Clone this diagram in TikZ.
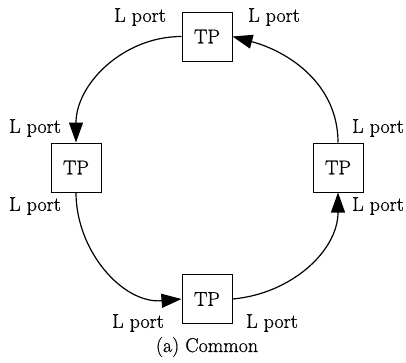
\documentclass[tikz,border=0pt]{standalone}
\usepackage{fontspec}
\setmainfont[FakeBold=0.6]{Latin Modern Roman}
\usetikzlibrary{arrows.meta}
\begin{document}
\begin{tikzpicture}[x=1pt,y=-1pt,
  tp/.style={draw,line width=1pt,minimum width=50pt,minimum height=49pt,inner sep=0pt,font=\fontsize{20}{22}\selectfont},
  lbl/.style={font=\fontsize{20}{22}\selectfont,inner sep=0pt},
  link/.style={line width=1.2pt,-{Triangle[length=20pt,width=14pt]}}]
\useasboundingbox (0,0) rectangle (406,362);
% four transit points on the ring
\node[tp] (top) at (207,36.5) {TP};
\node[tp] (left) at (76,167.5) {TP};
\node[tp] (right) at (338,167.5) {TP};
\node[tp] (bot) at (207,299) {TP};
% port labels
\node[lbl] (l1) at (140,17) {L port};
\node[lbl] (l2) at (274,17) {L port};
\node[lbl] (l3) at (35,128) {L port};
\node[lbl] (l4) at (35,206) {L port};
\node[lbl] (l5) at (378,128) {L port};
\node[lbl] (l6) at (378,206) {L port};
\node[lbl] (l7) at (138,323) {L port};
\node[lbl] (l8) at (272,323) {L port};
\node[lbl] (cap) at (207,347) {(a) Common};
% ring connections
\draw[link] (top.west) to[out=180,in=90] (left.north);
\draw[link] (left.south) to[out=-90,in=185] (bot.west);
\draw[link] (bot.east) to[out=5,in=-90] (right.south);
\draw[link] (right.north) to[out=90,in=-15] (top.east);
\end{tikzpicture}
\end{document}
